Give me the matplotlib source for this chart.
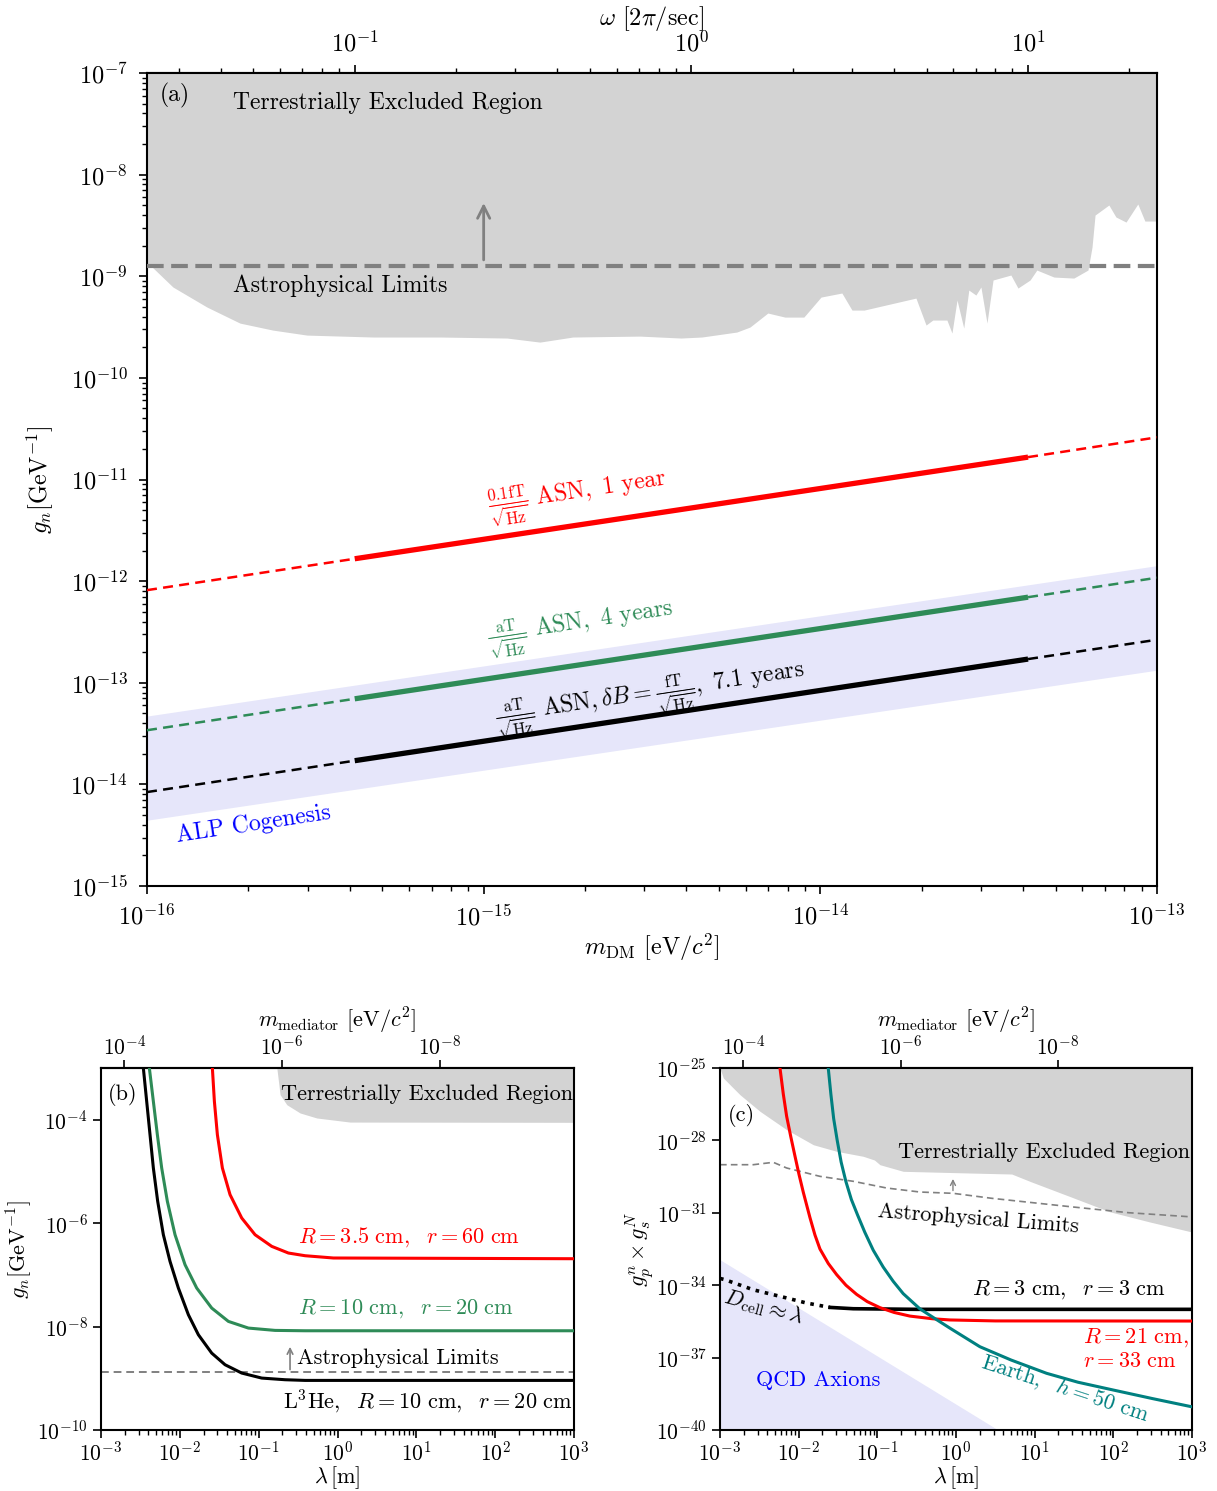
import numpy as np
import matplotlib.pyplot as plt
from matplotlib.ticker import LogLocator, NullLocator

plt.rcParams['font.family'] = 'serif'
plt.rcParams['font.serif'] = ['cmr10']
plt.rcParams['mathtext.fontset'] = 'cm'
plt.rcParams['axes.formatter.use_mathtext'] = True
plt.rcParams['axes.unicode_minus'] = False

# ---------------- data (a) ----------------
# terrestrial exclusion boundary (log10 values)
log_m_edge = [-16.0, -15.986, -15.923, -15.822, -15.724, -15.626, -15.525, -15.329, -15.130,
              -14.931, -14.833, -14.735, -14.536, -14.414, -14.352, -14.248, -14.209, -14.156,
              -14.105, -14.049, -13.998, -13.936, -13.906, -13.870, -13.716, -13.686, -13.666,
              -13.624, -13.609, -13.594, -13.574, -13.559, -13.538, -13.523, -13.505, -13.487,
              -13.434, -13.413, -13.377, -13.357, -13.306, -13.247, -13.205, -13.193, -13.184,
              -13.143, -13.122, -13.092, -13.057, -13.036, -13.0]
log_g_edge = [-8.906, -8.906, -9.106, -9.303, -9.461, -9.530, -9.579, -9.598, -9.598,
              -9.608, -9.648, -9.598, -9.589, -9.608, -9.598, -9.549, -9.500, -9.362,
              -9.402, -9.402, -9.205, -9.165, -9.333, -9.333, -9.215, -9.480, -9.431,
              -9.431, -9.559, -9.234, -9.510, -9.136, -9.185, -9.106, -9.461, -9.037,
              -8.988, -9.116, -9.037, -8.939, -9.008, -9.018, -8.939, -8.713, -8.398,
              -8.299, -8.417, -8.467, -8.289, -8.457, -8.457]
g_astro_a = 1.26e-9

m_pts = [1e-16, 4.14e-16, 4.14e-14, 1e-13]
g_red = [8.15e-13, 1.66e-12, 1.66e-11, 2.6e-11]
g_green = [3.41e-14, 6.95e-14, 6.95e-13, 1.08e-12]
g_black = [8.4e-15, 1.71e-14, 1.71e-13, 2.65e-13]

band_m = [1e-16, 1e-13]
band_lo = [4.44e-15, 1.33e-13]
band_hi = [4.7e-14, 1.42e-12]

# ---------------- data (b) (log10 values) ----------------
log_lam_b_black = [-2.4628, -2.4205, -2.3782, -2.3359, -2.2809, -2.2090, -2.1244, -2.0186,
                   -1.8917, -1.7648, -1.5956, -1.4264, -1.2149, -0.9611, -0.6650, -0.4112, 3.0]
log_g_b_black = [-3.0, -3.645, -4.290, -4.934, -5.579, -6.224, -6.740, -7.255,
                 -7.771, -8.158, -8.513, -8.738, -8.899, -8.996, -9.028, -9.041, -9.041]
log_lam_b_green = [-2.3867, -2.3359, -2.2851, -2.2301, -2.1582, -2.0609, -1.9340, -1.7859,
                   -1.5956, -1.3841, -1.1303, -0.7919, -0.4112, 3.0]
log_g_b_green = [-3.0, -3.645, -4.290, -4.934, -5.579, -6.224, -6.804, -7.255,
                 -7.642, -7.900, -8.029, -8.074, -8.081, -8.081]
log_lam_b_red = [-1.5872, -1.5618, -1.5237, -1.4603, -1.3629, -1.2149, -1.0457, -0.8342,
                 -0.6227, -0.4112, -0.052, 3.0]
log_g_b_red = [-3.0, -3.645, -4.290, -4.934, -5.450, -5.901, -6.224, -6.449,
               -6.578, -6.630, -6.674, -6.688]
lam_b_terr = [0.170, 0.187, 0.2275, 0.335, 0.546, 1.445, 1000]
g_b_terr = [1e-3, 3.05e-4, 1.95e-4, 1.35e-4, 1.08e-4, 9.0e-5, 8.9e-5]
g_astro_b = 1.3e-9

# ---------------- data (c) (log10 values) ----------------
log_lam_c_terr = [-3.0, -2.958, -2.746, -2.492, -2.152, -1.814, -1.517, -1.179, -1.037, -0.967,
                  -0.671, 0.177, 0.708, 0.952, 1.455, 1.953, 2.451, 3.0]
log_y_c_terr = [-25.0, -25.414, -26.107, -26.794, -27.557, -28.179, -28.452, -28.659, -28.813, -29.007,
                -29.281, -29.351, -29.393, -29.712, -30.334, -30.955, -31.370, -31.797]
log_lam_c_astro = [-3.0, -2.577, -2.323, -2.152, -1.729, -1.306, -0.882, -0.459, -0.036, 0.456, 1.455, 2.197, 3.0]
log_y_c_astro = [-29.007, -29.007, -28.908, -29.144, -29.49, -29.695, -29.973, -30.139, -30.193, -30.40, -30.748, -30.997, -31.17]
log_lam_c_red = [-2.2376, -2.1953, -2.1529, -2.10, -2.047, -1.995, -1.9411, -1.8564, -1.7929,
                 -1.7294, -1.6235, -1.5176, -1.399, -1.2634, -1.128, -0.967, -0.7858, -0.5858,
                 -0.3, -0.0775, 0.5, 3.0]
log_y_c_red = [-25.0, -26.08, -27.0, -27.85, -28.65, -29.42, -30.15, -31.2, -31.92,
               -32.5, -33.1, -33.56, -34.0, -34.38, -34.68, -34.93, -35.13, -35.28,
               -35.39, -35.44, -35.48, -35.485]
log_lam_c_teal = [-1.624, -1.590, -1.555, -1.51, -1.46, -1.40, -1.33, -1.25, -1.16, -1.052,
                  -0.925, -0.798, -0.671, -0.459, -0.25, -0.077, 0.304, 0.70, 1.151, 1.55,
                  1.994, 2.5, 3.0]
log_y_c_teal = [-25.0, -26.1, -27.1, -28.0, -28.9, -29.7, -30.45, -31.1, -31.8, -32.55,
                -33.25, -33.84, -34.35, -34.98, -35.42, -35.78, -36.55, -37.1, -37.65, -38.02,
                -38.34, -38.7, -39.04]
log_lam_c_dot = [-3.0, -2.936, -2.577, -2.152, -1.898, -1.602]
log_y_c_dot = [-33.72, -33.773, -34.19, -34.53, -34.74, -34.92]
log_lam_c_black = [-1.602, -1.306, -0.5, 3.0]
log_y_c_black = [-34.92, -34.975, -35.0, -35.0]
qcd_lam = [1e-3, 3.44]
qcd_top = [1.14e-33, 1e-40]

H_EVS = 4.1357e-15     # eV s
HBARC = 1.9733e-7      # eV m

GRAY = '#d3d3d3'
SEAGREEN = '#2e8b57'
TEAL = '#008080'


def style_axes(ax, fs):
    for s in ax.spines.values():
        s.set_linewidth(1.5)
    ax.tick_params(which='major', length=6, width=1.2, labelsize=fs)
    ax.tick_params(which='minor', length=3.5, width=1.0)


def p10(a):
    return 10 ** np.array(a)


fig = plt.figure(figsize=(12.17, 14.91), dpi=100)

# ================= panel (a) =================
FA = 17
ax = fig.add_axes([147 / 1217, 1 - 886 / 1491, 1010 / 1217, 813 / 1491])
ax.set_xscale('log')
ax.set_yscale('log')
ax.set_xlim(1e-16, 1e-13)
ax.set_ylim(1e-15, 1e-7)

ax.fill_between(p10(log_m_edge), p10(log_g_edge), 1e-7, color=GRAY, lw=0, zorder=1)
ax.axhline(g_astro_a, color='gray', lw=3, dashes=(4, 1.8), zorder=3)
ax.annotate('', xy=(1e-15, 5.6e-9), xytext=(1e-15, 1.36e-9),
            arrowprops=dict(arrowstyle='->', color='gray', lw=2, mutation_scale=22), zorder=3)

ax.fill_between(band_m, band_lo, band_hi, color='lavender', lw=0, zorder=1)

for g, c in [(g_red, 'red'), (g_green, SEAGREEN), (g_black, 'black')]:
    ax.plot(m_pts[:2], g[:2], color=c, lw=1.8, ls=(0, (4, 2.5)), zorder=4)
    ax.plot(m_pts[2:], g[2:], color=c, lw=1.8, ls=(0, (4, 2.5)), zorder=4)
    ax.plot(m_pts[1:3], g[1:3], color=c, lw=3.8, solid_capstyle='butt', zorder=5)

ax.text(0.013, 0.972, '(a)', transform=ax.transAxes, fontsize=FA, va='center')
ax.text(0.085, 0.963, 'Terrestrially Excluded Region', transform=ax.transAxes,
        fontsize=FA, va='center')
ax.text(0.085, 0.738, 'Astrophysical Limits', transform=ax.transAxes,
        fontsize=FA, va='center')
rot = 8.6
ax.text(0.427, 0.480, r'$\frac{0.1\mathrm{fT}}{\sqrt{\mathrm{Hz}}}$ ASN$,\ $1 year',
        transform=ax.transAxes, fontsize=FA, color='red', rotation=rot,
        ha='center', va='center', rotation_mode='anchor')
ax.text(0.430, 0.318, r'$\frac{\mathrm{aT}}{\sqrt{\mathrm{Hz}}}$ ASN$,\ $4 years',
        transform=ax.transAxes, fontsize=FA, color=SEAGREEN, rotation=rot,
        ha='center', va='center', rotation_mode='anchor')
ax.text(0.498, 0.232,
        r'$\frac{\mathrm{aT}}{\sqrt{\mathrm{Hz}}}$ ASN$,\delta B = \frac{\mathrm{fT}}{\sqrt{\mathrm{Hz}}},\ $7.1 years',
        transform=ax.transAxes, fontsize=FA, color='black', rotation=rot,
        ha='center', va='center', rotation_mode='anchor')
ax.text(0.105, 0.076, 'ALP Cogenesis', transform=ax.transAxes, fontsize=FA,
        color='blue', rotation=rot, ha='center', va='center', rotation_mode='anchor')

ax.set_xticks([1e-16, 1e-15, 1e-14, 1e-13])
ax.xaxis.set_minor_locator(LogLocator(base=10, subs=np.arange(2, 10), numticks=20))
ax.yaxis.set_major_locator(LogLocator(base=10, numticks=20))
ax.yaxis.set_minor_locator(LogLocator(base=10, subs=np.arange(2, 10), numticks=20))
style_axes(ax, 17.5)
ax.tick_params(axis='x', pad=7)
ax.tick_params(axis='y', pad=8)
ax.set_xlabel(r'$m_{\rm DM}$ [eV/$c^2$]', fontsize=17.5, labelpad=1)
ax.set_ylabel(r'$g_n [\mathrm{GeV}^{-1}]$', fontsize=17.5, labelpad=10)

secx = ax.secondary_xaxis('top', functions=(lambda m: m / H_EVS, lambda w: w * H_EVS))
secx.set_xticks([1e-1, 1e0, 1e1])
secx.xaxis.set_minor_locator(LogLocator(base=10, subs=np.arange(2, 10), numticks=20))
style_axes(secx, 17.5)
secx.tick_params(axis='x', pad=6)
secx.set_xlabel(r'$\omega$ [2$\pi$/sec]', fontsize=17.5, labelpad=4)

# ================= panel (b) =================
FB = 16
FT = 15.5
axb = fig.add_axes([101 / 1217, 1 - 1430 / 1491, 473 / 1217, 362 / 1491])
axb.set_xscale('log')
axb.set_yscale('log')
axb.set_xlim(1e-3, 1e3)
axb.set_ylim(1e-10, 1e-3)
axb.fill_between(lam_b_terr, g_b_terr, 1e-3, color=GRAY, lw=0, zorder=1)
axb.axhline(g_astro_b, color='gray', lw=1.4, ls=(0, (4, 2.5)), zorder=2)
axb.annotate('', xy=(0.25, 4.6e-9), xytext=(0.25, 1.3e-9),
             arrowprops=dict(arrowstyle='->', color='gray', lw=1.2, mutation_scale=10), zorder=3)
axb.plot(p10(log_lam_b_red), p10(log_g_b_red), color='red', lw=2.2, zorder=4)
axb.plot(p10(log_lam_b_green), p10(log_g_b_green), color=SEAGREEN, lw=2.2, zorder=4)
axb.plot(p10(log_lam_b_black), p10(log_g_b_black), color='black', lw=2.2, zorder=4)

axb.text(0.015, 0.928, '(b)', transform=axb.transAxes, fontsize=FB, va='center')
axb.text(0.998, 0.928, 'Terrestrially Excluded Region', transform=axb.transAxes,
         fontsize=FB, va='center', ha='right')
axb.text(0.416, 0.533, r'$R=3.5\ \mathrm{cm},\ \ r=60\ \mathrm{cm}$', transform=axb.transAxes,
         fontsize=FB, color='red', va='center')
axb.text(0.416, 0.334, r'$R=10\ \mathrm{cm},\ \ r=20\ \mathrm{cm}$', transform=axb.transAxes,
         fontsize=FB, color=SEAGREEN, va='center')
axb.text(0.414, 0.199, 'Astrophysical Limits', transform=axb.transAxes,
         fontsize=FB, va='center')
axb.text(0.385, 0.080, r'$\mathrm{L^3He},\ \ R=10\ \mathrm{cm},\ \ r=20\ \mathrm{cm}$',
         transform=axb.transAxes, fontsize=FB, va='center')

axb.set_yticks([1e-10, 1e-8, 1e-6, 1e-4])
axb.yaxis.set_minor_locator(NullLocator())
axb.set_xticks([1e-3, 1e-2, 1e-1, 1e0, 1e1, 1e2, 1e3])
axb.xaxis.set_minor_locator(LogLocator(base=10, subs=np.arange(2, 10), numticks=20))
style_axes(axb, FT)
axb.tick_params(axis='x', pad=1.5)
axb.set_xlabel(r'$\lambda\,[\mathrm{m}]$', fontsize=FB, labelpad=0)
axb.set_ylabel(r'$g_n[\mathrm{GeV}^{-1}]$', fontsize=FB, labelpad=2)

secb = axb.secondary_xaxis('top', functions=(lambda l: HBARC / l, lambda m: HBARC / m))
secb.set_xticks([1e-4, 1e-6, 1e-8])
secb.xaxis.set_minor_locator(NullLocator())
style_axes(secb, FT)
secb.tick_params(axis='x', pad=1)
secb.set_xlabel(r'$m_{\rm mediator}$ [eV/$c^2$]', fontsize=FB, labelpad=5)

# ================= panel (c) =================
axc = fig.add_axes([720 / 1217, 1 - 1430 / 1491, 472 / 1217, 362 / 1491])
axc.set_xscale('log')
axc.set_yscale('log')
axc.set_xlim(1e-3, 1e3)
axc.set_ylim(1e-40, 1e-25)
axc.fill_between(p10(log_lam_c_terr), p10(log_y_c_terr), 1e-25, color=GRAY, lw=0, zorder=1)
axc.fill_between(qcd_lam, 1e-40, qcd_top, color='lavender', lw=0, zorder=1)
axc.plot(p10(log_lam_c_astro), p10(log_y_c_astro), color='gray', lw=1.2,
         ls=(0, (4, 2.5)), zorder=2)
axc.annotate('', xy=(0.915, 3.3e-30), xytext=(0.915, 6.4e-31),
             arrowprops=dict(arrowstyle='->', color='gray', lw=1.0, mutation_scale=9), zorder=3)
axc.plot(p10(log_lam_c_dot), p10(log_y_c_dot), color='black', lw=2.6, ls=(0, (1, 1.6)), zorder=4)
axc.plot(p10(log_lam_c_black), p10(log_y_c_black), color='black', lw=2.6, zorder=4)
axc.plot(p10(log_lam_c_red), p10(log_y_c_red), color='red', lw=2.2, zorder=4)
axc.plot(p10(log_lam_c_teal), p10(log_y_c_teal), color=TEAL, lw=2.2, zorder=4)

axc.text(0.017, 0.870, '(c)', transform=axc.transAxes, fontsize=FB, va='center')
axc.text(0.996, 0.768, 'Terrestrially Excluded Region', transform=axc.transAxes,
         fontsize=FB, va='center', ha='right')
axc.text(0.547, 0.583, 'Astrophysical Limits', transform=axc.transAxes, fontsize=FB,
         va='center', ha='center', rotation=-4.4, rotation_mode='anchor')
axc.text(0.945, 0.387, r'$R=3\ \mathrm{cm},\ \ r=3\ \mathrm{cm}$', transform=axc.transAxes,
         fontsize=FB, va='center', ha='right')
axc.text(0.769, 0.254, r'$R=21\ \mathrm{cm},$', transform=axc.transAxes,
         fontsize=FB, va='center', color='red')
axc.text(0.769, 0.191, r'$r=33\ \mathrm{cm}$', transform=axc.transAxes,
         fontsize=FB, va='center', color='red')
axc.text(0.731, 0.116, r'Earth$,\ \ h=50\ \mathrm{cm}$', transform=axc.transAxes,
         fontsize=FB, va='center', ha='center', color=TEAL, rotation=-18,
         rotation_mode='anchor')
axc.text(0.091, 0.340, r'$D_{\rm cell}\approx\lambda$', transform=axc.transAxes,
         fontsize=FB, va='center', ha='center', rotation=-15, rotation_mode='anchor')
axc.text(0.208, 0.138, 'QCD Axions', transform=axc.transAxes, fontsize=FB,
         va='center', ha='center', color='blue')

axc.set_yticks([1e-40, 1e-37, 1e-34, 1e-31, 1e-28, 1e-25])
axc.yaxis.set_minor_locator(NullLocator())
axc.set_xticks([1e-3, 1e-2, 1e-1, 1e0, 1e1, 1e2, 1e3])
axc.xaxis.set_minor_locator(LogLocator(base=10, subs=np.arange(2, 10), numticks=20))
style_axes(axc, FT)
axc.tick_params(axis='x', pad=1.5)
axc.set_xlabel(r'$\lambda\,[\mathrm{m}]$', fontsize=FB, labelpad=0)
axc.set_ylabel(r'$g_p^n \times g_s^N$', fontsize=FB, labelpad=0)

secc = axc.secondary_xaxis('top', functions=(lambda l: HBARC / l, lambda m: HBARC / m))
secc.set_xticks([1e-4, 1e-6, 1e-8])
secc.xaxis.set_minor_locator(NullLocator())
style_axes(secc, FT)
secc.tick_params(axis='x', pad=1)
secc.set_xlabel(r'$m_{\rm mediator}$ [eV/$c^2$]', fontsize=FB, labelpad=5)

fig.savefig('out.png', dpi=100)
